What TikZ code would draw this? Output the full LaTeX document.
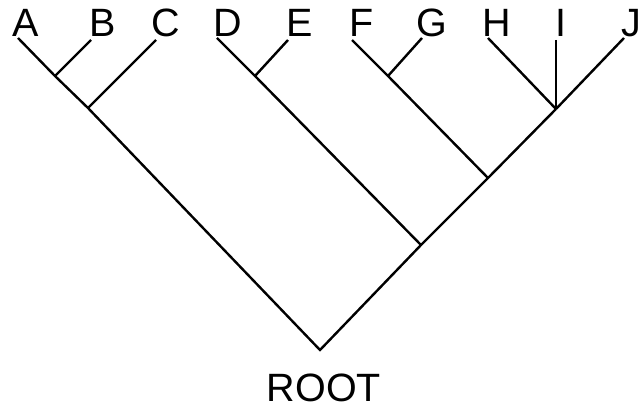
\documentclass[tikz,border=0pt]{standalone}
\usepackage{fontspec}
\setmainfont{Liberation Sans}
\begin{document}
\begin{tikzpicture}[x=1pt,y=-1pt,
  branch/.style={draw, line width=2.4pt, line cap=butt, line join=miter},
  leaflabel/.style={font=\fontsize{39.5}{39.5}\selectfont, inner sep=0pt, anchor=base}]
\useasboundingbox (0,0) rectangle (641,409);
% leaf tips
\coordinate (a) at (18,38);
\coordinate (b) at (91,40);
\coordinate (c) at (156,40);
\coordinate (d) at (217,38);
\coordinate (e) at (288,40);
\coordinate (f) at (352,40);
\coordinate (g) at (422,38);
\coordinate (h) at (488,38);
\coordinate (i) at (556,40);
\coordinate (j) at (624,38);
% internal junctions
\coordinate (ab) at (55,76);
\coordinate (abc) at (88,108);
\coordinate (de) at (255,76);
\coordinate (fg) at (388,76);
\coordinate (hij) at (556,109);
\coordinate (fgj) at (488,178);
\coordinate (dj) at (421,245);
\coordinate (root) at (320,350);
% labels
\node[leaflabel] (la) at (26,37) {A};
\node[leaflabel] (lb) at (103,37) {B};
\node[leaflabel] (lc) at (166,37) {C};
\node[leaflabel] (ld) at (228,37) {D};
\node[leaflabel] (le) at (300,37) {E};
\node[leaflabel] (lf) at (362,37) {F};
\node[leaflabel] (lg) at (432,37) {G};
\node[leaflabel] (lh) at (497,37) {H};
\node[leaflabel] (li) at (561,37) {I};
\node[leaflabel] (lj) at (631,37) {J};
\node[leaflabel] (lroot) at (324,401) {ROOT};
% branches
\draw[branch] (a) -- (ab) -- (abc) -- (root) -- (dj) -- (fgj) -- (hij);
\draw[branch] (b) -- (ab);
\draw[branch] (c) -- (abc);
\draw[branch] (d) -- (de) -- (dj);
\draw[branch] (e) -- (de);
\draw[branch] (f) -- (fg) -- (fgj);
\draw[branch] (g) -- (fg);
\draw[branch] (h) -- (hij);
\draw[branch] (i) -- (hij);
\draw[branch] (j) -- (hij);
\end{tikzpicture}
\end{document}
